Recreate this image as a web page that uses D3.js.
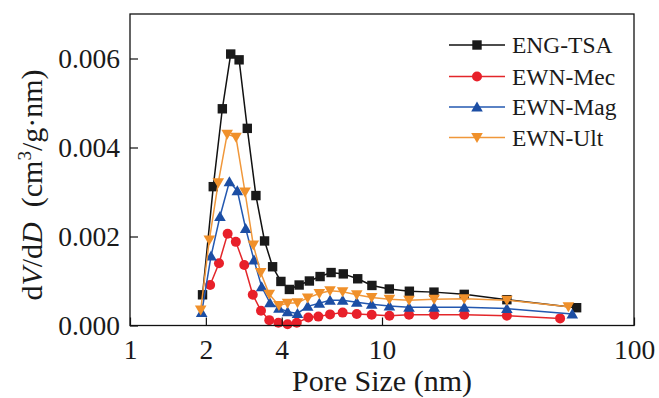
<!DOCTYPE html>
<html>
<head>
<meta charset="utf-8">
<script src="https://cdn.jsdelivr.net/npm/d3@7/dist/d3.min.js"></script>
<style>
html,body{margin:0;padding:0;background:#fff;}
svg{display:block;}
svg text{font-family:"Times New Roman","Liberation Serif","DejaVu Serif",serif !important;fill:#1a1a1a;}
</style>
</head>
<body>
<svg id="chart" width="659" height="398"></svg>
<script>
// ---- data ----
const seriesNames = ["ENG-TSA", "EWN-Mec", "EWN-Mag", "EWN-Ult"];
const engX = [1.94,2.14,2.325,2.51,2.71,2.92,3.16,3.42,3.68,3.97,4.29,4.69,5.15,5.68,6.28,7.02,8.01,9.12,10.69,12.84,16.08,21.2,31.3,59.2];
const engY = [0.00069,0.00312,0.00487,0.0061,0.00597,0.00443,0.00292,0.0019,0.00132,0.00099,0.00081,0.00091,0.001,0.0011,0.00119,0.00116,0.00105,0.0009,0.00082,0.00077,0.00075,0.0007,0.00058,0.0004];
const mecX = [2.08,2.255,2.44,2.63,2.84,3.07,3.31,3.57,3.88,4.22,4.59,5.10,5.59,6.22,6.98,7.94,9.1,10.7,12.8,16.1,21.2,31.3,50.9];
const mecY = [0.00091,0.0014,0.00206,0.00188,0.00136,0.00069,0.00033,0.00012,0.00006,0.00003,0.00006,0.00018,0.0002,0.00025,0.00029,0.00026,0.00024,0.00022,0.00024,0.00024,0.00024,0.00022,0.00016];
const magX = [1.925,2.097,2.275,2.48,2.666,2.877,3.105,3.33,3.59,3.9,4.22,4.62,5.07,5.64,6.22,6.98,7.94,9.1,10.7,12.8,16.1,21.2,31.3,56.9];
const magY = [0.00029,0.00156,0.00245,0.00323,0.00303,0.00218,0.00147,0.00087,0.00051,0.00039,0.00031,0.00027,0.00043,0.0005,0.00057,0.00057,0.00052,0.00048,0.00044,0.00041,0.00041,0.00041,0.00038,0.00026];
const ultX = [1.908,2.064,2.24,2.43,2.634,2.86,3.085,3.30,3.57,3.9,4.22,4.62,5.07,5.64,6.22,6.98,7.94,9.1,10.7,12.8,16.1,21.2,31.3,54.9];
const ultY = [0.00035,0.00192,0.00321,0.0043,0.00423,0.003,0.00181,0.00119,0.0007,0.00045,0.0005,0.00051,0.00062,0.00072,0.00078,0.00076,0.00069,0.00063,0.00059,0.00057,0.00059,0.0006,0.00057,0.00042];
const xTicks = [1, 2, 4, 10, 100];
const yTicks = [0, 0.002, 0.004, 0.006];

// ---- styling ----
const FONT = '"Times New Roman","Liberation Serif","DejaVu Serif",serif';
const styles = [
  {line:"#111", fill:"#1a1a1a", sym:"square"},
  {line:"#e3262a", fill:"#e8202a", sym:"circle"},
  {line:"#2358b0", fill:"#1c4ea4", sym:"up"},
  {line:"#f0973a", fill:"#f0902a", sym:"down"}
];
const seriesX = [engX, mecX, magX, ultX];
const seriesY = [engY, mecY, magY, ultY];

const svg = d3.select("#chart");
const L = 130, R = 634, T = 14, B = 325.5;
const x = d3.scaleLog().domain([1, 100]).range([L, R]);
const y = d3.scaleLinear().domain([0, 0.007]).range([B, T]);

function marker(g, sym, cx, cy, fill) {
  if (sym === "square") {
    g.append("rect").attr("x", cx-4.7).attr("y", cy-4.7).attr("width", 9.4).attr("height", 9.4).attr("fill", fill);
  } else if (sym === "circle") {
    g.append("circle").attr("cx", cx).attr("cy", cy).attr("r", 5).attr("fill", fill);
  } else if (sym === "up") {
    const w = 5.8, h = 10;
    g.append("path").attr("d", `M${cx},${cy-h*0.55}L${cx+w},${cy+h*0.45}L${cx-w},${cy+h*0.45}Z`).attr("fill", fill);
  } else {
    const w = 5.8, h = 10;
    g.append("path").attr("d", `M${cx},${cy+h*0.55}L${cx+w},${cy-h*0.45}L${cx-w},${cy-h*0.45}Z`).attr("fill", fill);
  }
}

// series
const line = d3.line().x(d => x(d[0])).y(d => y(d[1]));
seriesX.forEach((xs, i) => {
  const data = xs.map((v, j) => [v, seriesY[i][j]]);
  const g = svg.append("g");
  g.append("path").datum(data).attr("d", line).attr("fill", "none")
    .attr("stroke", styles[i].line).attr("stroke-width", 1.5);
  data.forEach(d => marker(g, styles[i].sym, x(d[0]), y(d[1]), styles[i].fill));
});

// frame
svg.append("rect").attr("x", L).attr("y", T).attr("width", R-L).attr("height", B-T)
  .attr("fill", "none").attr("stroke", "#111").attr("stroke-width", 1.3);

// x axis ticks (inward) + labels
const xAxis = d3.axisBottom(x).tickValues(xTicks).tickFormat(d3.format("d")).tickSize(-8).tickPadding(14);
const gx = svg.append("g").attr("transform", `translate(0,${B})`).call(xAxis)
  .attr("font-family", FONT).attr("font-size", 27.5);
gx.select(".domain").remove();
gx.selectAll("line").attr("stroke", "#111").attr("stroke-width", 1.2);
gx.selectAll("text").attr("fill", "#1a1a1a");

// y axis
const yAxis = d3.axisLeft(y).tickValues(yTicks).tickFormat(d3.format(".3f")).tickSize(-8).tickPadding(10);
const gy = svg.append("g").attr("transform", `translate(${L},0)`).call(yAxis)
  .attr("font-family", FONT).attr("font-size", 27.5);
gy.select(".domain").remove();
gy.selectAll("line").attr("stroke", "#111").attr("stroke-width", 1.2);
gy.selectAll("text").attr("fill", "#1a1a1a");

// axis titles
svg.append("text").attr("x", 382).attr("y", 391).attr("text-anchor", "middle")
  .attr("font-size", 30).text("Pore Size (nm)");

const yt = svg.append("text").attr("transform", "translate(42,185) rotate(-90)")
  .attr("text-anchor", "middle").attr("font-size", 30);
yt.append("tspan").text("d");
yt.append("tspan").attr("font-style", "italic").text("V");
yt.append("tspan").text("/d");
yt.append("tspan").attr("font-style", "italic").text("D");
yt.append("tspan").text("\u00a0\u00a0(cm");
yt.append("tspan").attr("font-size", 19).attr("dy", -11).text("3");
yt.append("tspan").attr("dy", 11).text("/g\u00b7nm)");

// legend
const legY = [45, 76.5, 107, 137.5];
seriesNames.forEach((name, i) => {
  const g = svg.append("g");
  g.append("line").attr("x1", 449).attr("x2", 505).attr("y1", legY[i]).attr("y2", legY[i])
    .attr("stroke", styles[i].line).attr("stroke-width", 1.5);
  marker(g, styles[i].sym, 477, legY[i], styles[i].fill);
  g.append("text").attr("x", 512).attr("y", legY[i] + 8).attr("font-size", 23.5).text(name);
});
</script>
</body>
</html>
